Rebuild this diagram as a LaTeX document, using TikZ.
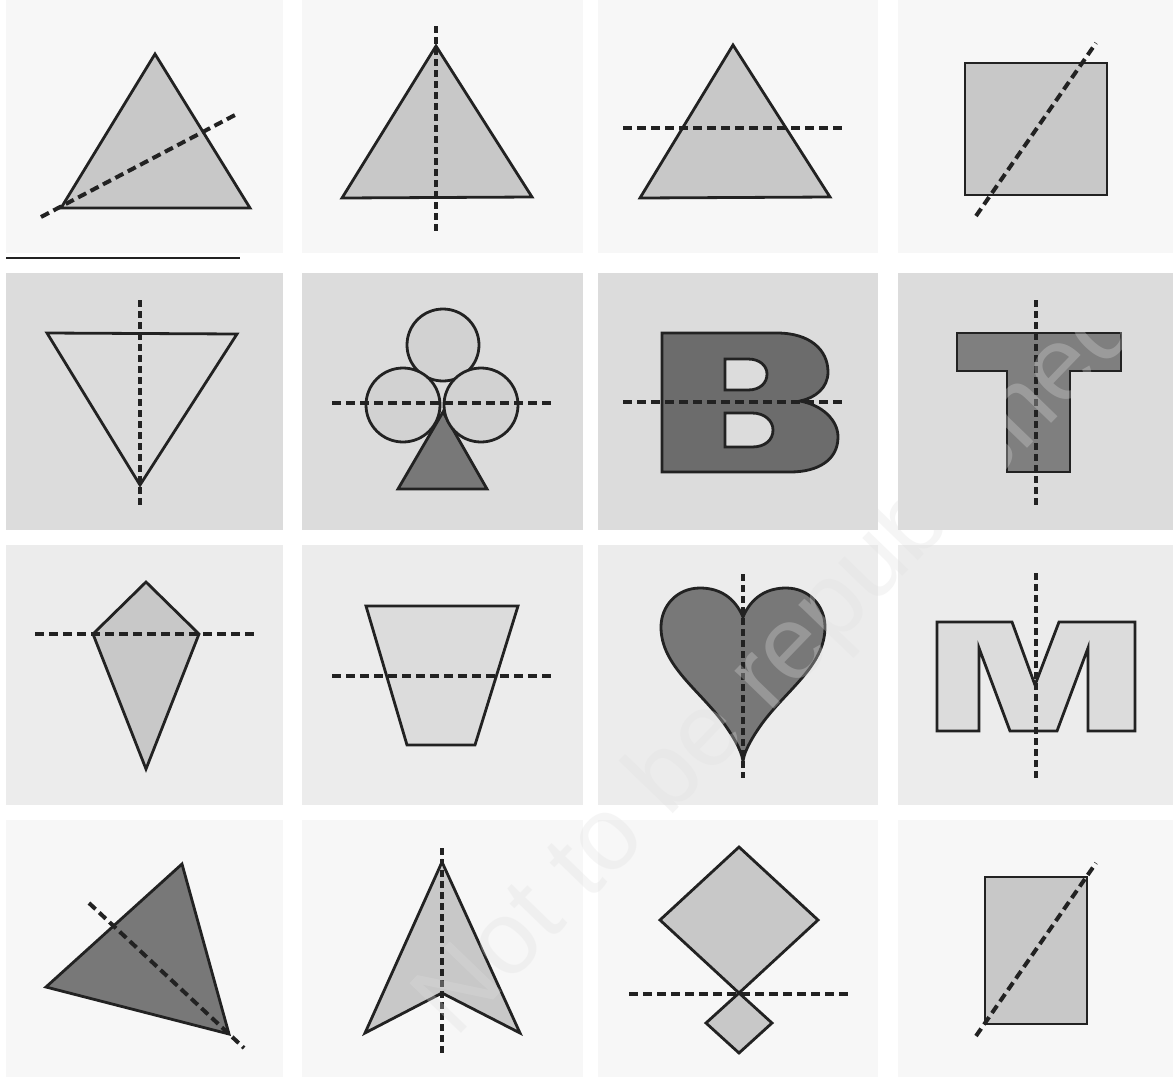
\documentclass[tikz,border=0pt]{standalone}
\usepackage{fontspec}
\setmainfont{Liberation Sans}
\definecolor{bgA}{HTML}{F7F7F7}
\definecolor{bgB}{HTML}{DCDCDC}
\definecolor{bgC}{HTML}{ECECEC}
\definecolor{shLight}{HTML}{C8C8C8}
\definecolor{shPale}{HTML}{DCDCDC}
\definecolor{shClub}{HTML}{D2D2D2}
\definecolor{shDark}{HTML}{787878}
\definecolor{shDarker}{HTML}{6C6C6C}
\definecolor{ink}{HTML}{222222}
\begin{document}
\begin{tikzpicture}[x=1pt,y=-1pt,
  shp/.style={draw=ink,line width=2.8pt,line join=miter},
  axis/.style={draw=ink,line width=4pt,dash pattern=on 9pt off 5pt},
  vaxis/.style={draw=ink,line width=3.8pt,dash pattern=on 7pt off 4pt}]
\useasboundingbox[fill=white] (0,0) rectangle (1173,1077);
% panels
\foreach \a/\b in {6/283,302/583,598/878,898/1173}{
  \fill[bgA] (\a,0) rectangle (\b,253);
  \fill[bgB] (\a,273) rectangle (\b,530);
  \fill[bgC] (\a,545) rectangle (\b,805);
  \fill[bgA] (\a,820) rectangle (\b,1077);
}
% row 1
\draw[shp,fill=shLight] (155,54) -- (61,208) -- (250,208) -- cycle;
\draw[axis] (41,217) -- (235,115);
\draw[line width=2.8pt,draw=ink] (6,258) -- (240,258);
\draw[shp,fill=shLight] (436,46) -- (342,198) -- (532,197) -- cycle;
\draw[vaxis] (436,26) -- (436,232);
\draw[shp,fill=shLight] (733,45) -- (640,198) -- (830,197) -- cycle;
\draw[axis] (623,128) -- (845,128);
\draw[shp,fill=shLight] (965,63) rectangle (1107,195);
\draw[axis] (976,216) -- (1096,43);
% row 2
\draw[shp] (47,333) -- (237,334) -- (140,485) -- cycle;
\draw[vaxis] (140,300) -- (140,505);
\draw[shp,fill=shDark] (398,489) -- (487,489) -- (443,412) -- cycle;
\draw[shp,fill=shClub] (443,345) circle[radius=36];
\draw[shp,fill=shClub] (403,405) circle[radius=37];
\draw[shp,fill=shClub] (481,405) circle[radius=37];
\draw[axis] (332,403) -- (553,403);
\draw[shp,fill=shDarker,even odd rule]
  (662,333) -- (777,333) .. controls (810,333) and (828,350) .. (828,372)
  .. controls (828,388) and (815,398) .. (800,401)
  .. controls (822,405) and (838,420) .. (838,437)
  .. controls (838,460) and (818,472) .. (790,472) -- (662,472) -- cycle
  (725,359) -- (748,359) .. controls (760,359) and (767,366) .. (767,374)
  .. controls (767,383) and (760,390) .. (748,390) -- (725,390) -- cycle
  (725,413) -- (752,413) .. controls (765,413) and (773,421) .. (773,430)
  .. controls (773,440) and (765,447) .. (752,447) -- (725,447) -- cycle;
\draw[axis] (623,402) -- (846,402);
\draw[shp,fill=shDark!95!white] (957,333) -- (1121,333) -- (1121,371) -- (1070,371)
  -- (1070,472) -- (1007,472) -- (1007,371) -- (957,371) -- cycle;
\draw[vaxis] (1036,300) -- (1036,505);
% row 3
\draw[shp,fill=shLight] (146,582) -- (199,634) -- (146,769) -- (93,634) -- cycle;
\draw[axis] (35,634) -- (256,634);
\draw[shp,fill=shPale] (366,606) -- (518,606) -- (475,745) -- (407,745) -- cycle;
\draw[axis] (332,676) -- (553,676);
\draw[shp,fill=shDark]
  (743,617) .. controls (735,598) and (720,588) .. (700,588)
  .. controls (677,588) and (661,606) .. (661,627)
  .. controls (661,666) and (700,690) .. (725,725)
  .. controls (737,742) and (743,755) .. (743,763)
  .. controls (743,755) and (749,742) .. (761,725)
  .. controls (786,690) and (825,666) .. (825,627)
  .. controls (825,606) and (809,588) .. (786,588)
  .. controls (766,588) and (751,598) .. (743,617) -- cycle;
\draw[vaxis] (743,574) -- (743,778);
\draw[shp,fill=shPale] (937,622) -- (1012,622) -- (1035,685) -- (1059,622) -- (1135,622)
  -- (1135,731) -- (1088,731) -- (1088,648) -- (1057,731) -- (1010,731)
  -- (979,648) -- (979,731) -- (937,731) -- cycle;
\draw[vaxis] (1036,573) -- (1036,778);
% row 4
\draw[shp,fill=shDark] (182,864) -- (46,987) -- (229,1034) -- cycle;
\draw[axis] (89,903) -- (244,1048);
\draw[shp,fill=shLight] (442,862) -- (520,1033) -- (442,993) -- (365,1033) -- cycle;
\draw[vaxis] (442,848) -- (442,1053);
\draw[shp,fill=shLight] (739,847) -- (818,920) -- (739,993) -- (660,920) -- cycle;
\draw[shp,fill=shLight] (739,993) -- (772,1023) -- (739,1053) -- (706,1023) -- cycle;
\draw[axis] (629,994) -- (849,994);
\draw[shp,fill=shLight] (985,877) rectangle (1087,1024);
\draw[axis] (976,1036) -- (1096,863);
% watermark
\node[rotate=46,text=gray!25,opacity=0.3,font=\fontsize{104}{110}\selectfont,inner sep=0pt]
  (wm) at (780,665) {Not to be republished};
\end{tikzpicture}
\end{document}
